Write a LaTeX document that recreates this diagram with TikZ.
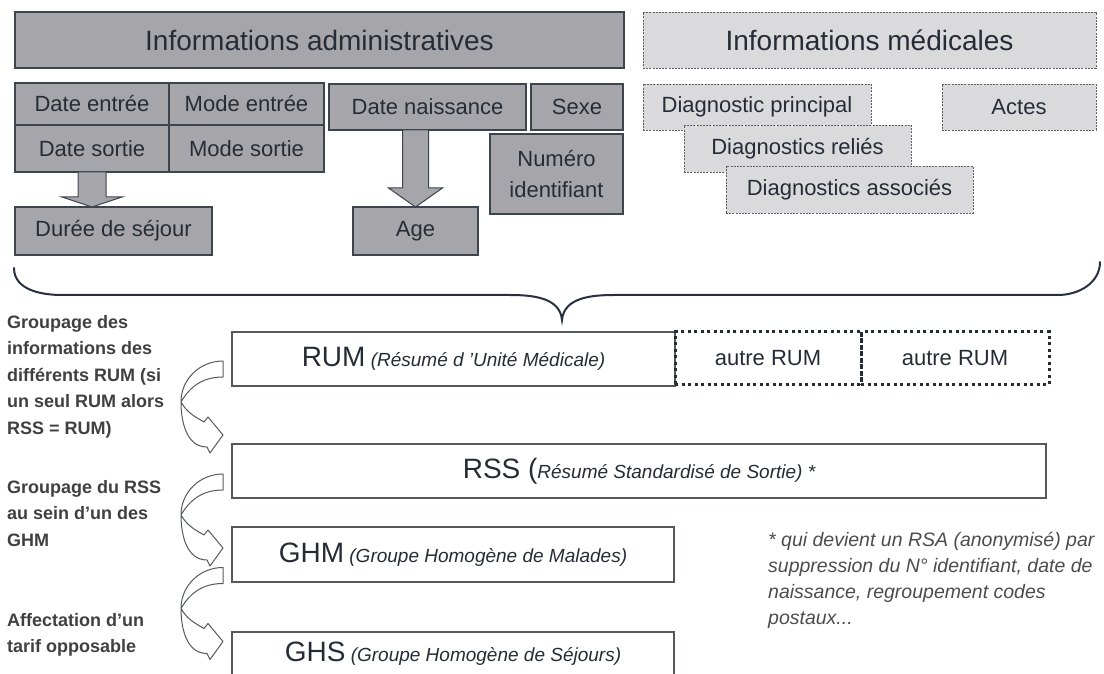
\documentclass[tikz,border=0pt]{standalone}
\usepackage{fontspec}
\setmainfont{Liberation Sans}
\usetikzlibrary{calc}

\definecolor{grisadm}{RGB}{166,166,170}
\definecolor{bordadm}{RGB}{62,68,78}
\definecolor{grismed}{RGB}{218,218,221}
\definecolor{bordmed}{RGB}{95,95,100}
\definecolor{encre}{RGB}{38,44,54}
\definecolor{trait}{RGB}{85,88,95}
\definecolor{accolade}{RGB}{38,48,62}

\newcommand{\petit}{\fontsize{19}{23}\selectfont\itshape}

\tikzset{
  base/.style={anchor=north west, inner sep=0pt, outer sep=0pt, align=center, text=encre},
  adminbox/.style={base, draw=bordadm, fill=grisadm, line width=1.2pt, font=\fontsize{22}{31}\selectfont},
  medbox/.style={base, draw=bordmed, fill=grismed, line width=0.8pt, dash pattern=on 2pt off 1.2pt, font=\fontsize{22}{31}\selectfont},
  titre/.style={font=\fontsize{28}{34}\selectfont},
  resume/.style={base, draw=trait, fill=white, line width=1.2pt, font=\fontsize{28}{34}\selectfont},
  autrerum/.style={base, draw=encre, line width=3pt, dash pattern=on 3pt off 3.5pt, font=\fontsize{22}{28}\selectfont},
  etape/.style={anchor=north west, inner sep=0pt, align=left, text=black!75, font=\fontsize{18}{26.5}\selectfont\bfseries},
  bloc/.style={draw=bordadm, fill=grisadm, line width=1pt, line join=miter},
  courbe/.style={draw=trait, line width=1pt, line join=round},
  accol/.style={draw=accolade, line width=2pt, line cap=round},
}

% fleche courbe entre deux resumes
\newcommand{\flechecourbe}[1]{%
  \begin{scope}[shift={#1}]
    \draw[courbe] (0,0) -- (0,-16) to[out=180,in=60] (-42,-41)
      to[out=-60,in=150] (-19,-61) -- (-15,-56) -- (0,-74) -- (-13,-92)
      -- (-16,-86) to[out=180,in=-90] (-42,-41) to[out=90,in=180] (0,0) -- cycle;
  \end{scope}}

\begin{document}
\begin{tikzpicture}[x=1pt,y=1pt]
\clip (0,0) rectangle (1104,673);

% en-tetes
\node[adminbox, titre, minimum width=609pt, minimum height=56pt, line width=1.6pt] (adm) at (15,661) {Informations administratives};
\node[medbox, titre, minimum width=453pt, minimum height=56pt] (med) at (643,661) {Informations médicales};

% informations administratives
\node[adminbox, minimum width=154pt, minimum height=42pt] (datee) at (15,590) {Date entrée};
\node[adminbox, minimum width=155pt, minimum height=42pt] (modee) at (169,590) {Mode entrée};
\node[adminbox, minimum width=154pt, minimum height=47pt] (dates) at (15,548) {Date sortie};
\node[adminbox, minimum width=155pt, minimum height=47pt] (modes) at (169,548) {Mode sortie};
\node[adminbox, minimum width=197pt, minimum height=46pt] (dnais) at (329,589) {Date naissance};
\node[adminbox, minimum width=92pt, minimum height=46pt] (sexe) at (531,589) {Sexe};
\node[adminbox, minimum width=133pt, minimum height=80pt] (numid) at (490,539) {Numéro\\identifiant};
\node[adminbox, minimum width=197pt, minimum height=48pt] (duree) at (15,466) {Durée de séjour};
\node[adminbox, minimum width=125pt, minimum height=48pt] (age) at (353,466) {Age};

\draw[bloc] ($(dates.south)+(-14,0)$) -- ($(duree.north -| dates.south)+(-14,10)$) -- ++(-16,0)
  -- (duree.north -| dates.south) -- ++(30,10) -- ++(-16,0) -- ($(dates.south)+(14,0)$) -- cycle;
\draw[bloc] ($(dnais.south -| age.north)+(-13,0)$) -- ($(age.north)+(-13,19)$) -- ++(-14,0)
  -- (age.north) -- ++(27,19) -- ++(-14,0) -- ($(dnais.south -| age.north)+(13,0)$) -- cycle;

% informations medicales
\node[medbox, minimum width=228pt, minimum height=46pt] (dprinc) at (643,589) {Diagnostic principal};
\node[medbox, minimum width=154pt, minimum height=46pt] (actes) at (942,589) {Actes};
\node[medbox, minimum width=227pt, minimum height=47pt] (drel) at (684,548) {Diagnostics reliés};
\node[medbox, minimum width=247pt, minimum height=47pt] (dassoc) at (726,507) {Diagnostics associés};

% accolade
\coordinate (acg) at (14,405);
\coordinate (acp) at (562,353);
\coordinate (acd) at (1100,411);
\draw[accol] (acg) to[out=-90,in=180] (62,378) -- (510,378) to[out=0,in=95] (acp)
  to[out=85,in=180] (614,378) -- (1058,378) to[out=0,in=-90] (acd);

% resumes
\node[resume, minimum width=443pt, minimum height=54pt] (rum) at (232,341) {RUM{\petit{} (Résumé d 'Unité Médicale)}};
\node[autrerum, minimum width=186pt, minimum height=53pt] (autre1) at (675,341) {autre RUM};
\node[autrerum, minimum width=188pt, minimum height=53pt] (autre2) at (861,341) {autre RUM};
\node[resume, minimum width=814pt, minimum height=54pt] (rss) at (232,229) {RSS ({\petit Résumé Standardisé de Sortie) *}};
\node[resume, minimum width=442pt, minimum height=55pt] (ghm) at (232,146) {GHM{\petit{} (Groupe Homogène de Malades)}};
\node[resume, minimum width=442pt, minimum height=44pt] (ghs) at (232,41) {GHS{\petit{} (Groupe Homogène de Séjours)}};

% etapes
\node[etape] (txtrum) at (7,358) {Groupage des\\informations des\\différents RUM (si\\un seul RUM alors\\RSS = RUM)};
\node[etape] (txtghm) at (7,193) {Groupage du RSS\\au sein d’un des\\GHM};
\node[etape] (txttarif) at (7,60) {Affectation d’un\\tarif opposable};

\flechecourbe{($(rum.west)+(-9,-2)$)}
\flechecourbe{($(rss.west)+(-9,-3)$)}
\flechecourbe{($(ghm.west)+(-9,-13)$)}

\node[anchor=north west, inner sep=0pt, align=left, text=black!70, font=\fontsize{19.5}{26}\selectfont\itshape] (note) at (768,141)
  {* qui devient un RSA (anonymisé) par\\suppression du N° identifiant, date de\\naissance, regroupement codes\\postaux...};
\end{tikzpicture}
\end{document}
